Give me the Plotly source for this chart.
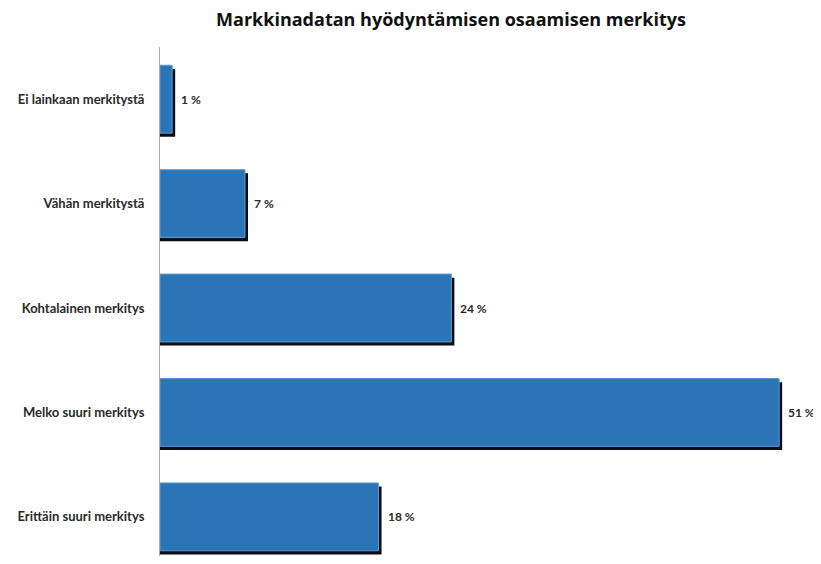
import plotly.graph_objects as go

categories = ["Ei lainkaan merkitystä", "Vähän merkitystä", "Kohtalainen merkitys",
              "Melko suuri merkitys", "Erittäin suuri merkitys"]
values = [1, 7, 24, 51, 18]
labels = ["1 %", "7 %", "24 %", "51 %", "18 %"]
title = "Markkinadatan hyödyntämisen osaamisen merkitys"

ypos = list(range(len(categories)))
W = 0.65

fig = go.Figure()
# shadow
fig.add_trace(go.Bar(
    y=ypos, x=[v + 0.25 for v in values], orientation="h",
    width=W, offset=-W / 2 + 0.035,
    marker=dict(color="#0b0f14", line=dict(width=0)),
    hoverinfo="skip", showlegend=False,
))
# main bar
fig.add_trace(go.Bar(
    y=ypos, x=values, orientation="h",
    width=W, offset=-W / 2,
    marker=dict(color="#2b74b6", line=dict(color="#5d9bd2", width=1)),
    showlegend=False,
))

for yv, xv, lab in zip(ypos, values, labels):
    fig.add_annotation(x=xv, y=yv, text=lab, showarrow=False,
                       xanchor="left", yanchor="middle", xshift=7,
                       font=dict(family="Lato", size=12, color="#2a2a2a", weight="bold"))

fig.update_layout(
    width=813, height=548,
    margin=dict(l=152, r=0, t=39, b=0, autoexpand=False),
    paper_bgcolor="white", plot_bgcolor="white",
    barmode="overlay",
    title=dict(text="<b>" + title + "</b>", x=443 / 813, xanchor="center",
               y=1 - 12 / 548, yanchor="middle",
               font=dict(family="Open Sans", size=18, color="#111111")),
    xaxis=dict(range=[0, 54.45], showgrid=False, zeroline=False,
               showticklabels=False, showline=False),
    yaxis=dict(range=[4.375, -0.5], tickvals=ypos, ticktext=categories,
               showgrid=False, zeroline=False, showline=True,
               linecolor="#aaaaaa", linewidth=1, ticks="",
               ticklabelstandoff=12, automargin=False,
               tickfont=dict(family="Lato", size=13, color="#2a2a2a", weight="bold")),
)

fig.write_html("out.html")
